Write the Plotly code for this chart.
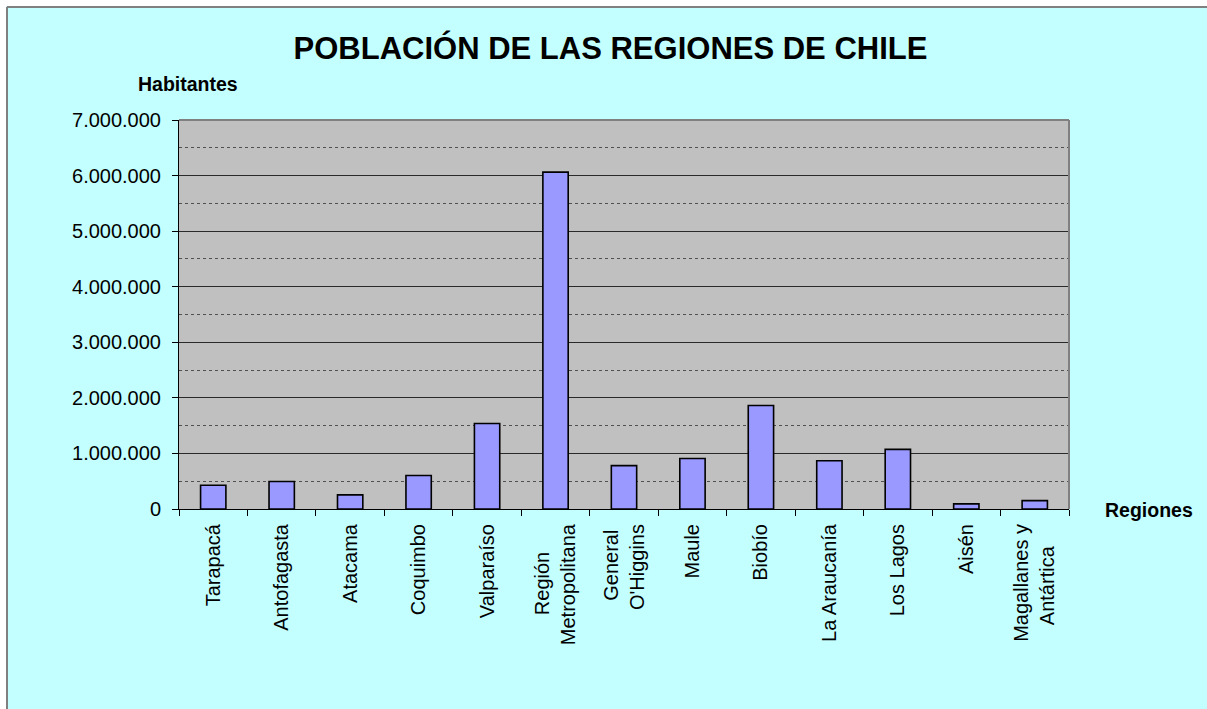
import plotly.graph_objects as go

# Población por región (Censo 2002)
regiones = [
    "Tarapacá",
    "Antofagasta",
    "Atacama",
    "Coquimbo",
    "Valparaíso",
    "Región\u00a0\u00a0\u00a0\u00a0\u00a0<br>Metropolitana",
    "General\u00a0<br>O'Higgins",
    "Maule",
    "Biobío",
    "La Araucanía",
    "Los Lagos",
    "Aisén",
    "Magallanes y<br>Antártica\u00a0\u00a0\u00a0\u00a0",
]
habitantes = [
    428594, 493984, 254336, 603210, 1539852, 6061185, 780627,
    908097, 1861562, 869535, 1073135, 91492, 150826,
]
y_ticks = [0, 1000000, 2000000, 3000000, 4000000, 5000000, 6000000, 7000000]

FONT = "Liberation Sans, Arial, sans-serif"
W, H = 1207, 709
L, R, T, B = 179, 138, 120, 200
PW, PH = W - L - R, H - T - B


def px_x(px):
    return (px - L) / PW


def px_y(py):
    return (H - B - py) / PH


fig = go.Figure(
    go.Bar(
        x=regiones,
        y=habitantes,
        marker=dict(color="#9999FF", line=dict(color="#000000", width=1.6)),
        hovertemplate="%{x}: %{y:,d}<extra></extra>",
    )
)

fig.update_layout(
    width=W,
    height=H,
    margin=dict(l=L, r=R, t=T, b=B, pad=0),
    paper_bgcolor="#C4FFFF",
    plot_bgcolor="#C0C0C0",
    separators=",.",
    bargap=0.63,
    showlegend=False,
    font=dict(family=FONT, size=20, color="#000000"),
    title=dict(
        text="<b>POBLACIÓN DE LAS REGIONES DE CHILE</b>",
        font=dict(family=FONT, size=31, color="#000000"),
        xref="container",
        yref="container",
        x=610.5 / W,
        y=1 - 48 / H,
        xanchor="center",
        yanchor="middle",
    ),
)

fig.update_yaxes(
    range=[0, 7000000],
    tickvals=y_ticks,
    tickformat=",d",
    ticks="outside",
    ticklen=6,
    tickcolor="#000000",
    ticklabelstandoff=7,
    tickfont=dict(family=FONT, size=20, color="#000000"),
    showline=True,
    linecolor="#000000",
    linewidth=1,
    showgrid=True,
    gridcolor="#2a2a2a",
    gridwidth=1,
    zeroline=False,
    minor=dict(dtick=500000, showgrid=True, gridcolor="#505050", griddash="dot", gridwidth=1),
    fixedrange=True,
)

fig.update_xaxes(
    type="category",
    tickangle=-90,
    ticks="outside",
    tickson="boundaries",
    ticklen=6,
    tickcolor="#000000",
    ticklabelstandoff=6,
    tickfont=dict(family=FONT, size=20, color="#000000"),
    showline=True,
    linecolor="#000000",
    linewidth=1,
    showgrid=False,
    fixedrange=True,
)

# Marco gris superior y derecho del área de trazado
fig.add_shape(type="line", xref="paper", yref="paper", x0=0, x1=1, y0=1, y1=1,
              line=dict(color="#808080", width=2), layer="above")
fig.add_shape(type="line", xref="paper", yref="paper", x0=1, x1=1, y0=0, y1=1,
              line=dict(color="#808080", width=2), layer="above")

# Borde blanco exterior y marco gris del gráfico
fig.add_shape(type="rect", xref="paper", yref="paper",
              x0=px_x(-5), x1=px_x(6), y0=px_y(H + 5), y1=px_y(-5),
              fillcolor="#FFFFFF", line=dict(width=0), layer="below")
fig.add_shape(type="rect", xref="paper", yref="paper",
              x0=px_x(-5), x1=px_x(W + 5), y0=px_y(6), y1=px_y(-5),
              fillcolor="#FFFFFF", line=dict(width=0), layer="below")
fig.add_shape(type="line", xref="paper", yref="paper",
              x0=px_x(7), x1=px_x(7), y0=px_y(7), y1=px_y(H + 5),
              line=dict(color="#808080", width=2), layer="below")
fig.add_shape(type="line", xref="paper", yref="paper",
              x0=px_x(7), x1=px_x(W + 5), y0=px_y(7), y1=px_y(7),
              line=dict(color="#808080", width=2), layer="below")

fig.add_annotation(text="<b>Habitantes</b>", xref="paper", yref="paper",
                   x=px_x(188), y=px_y(84), showarrow=False,
                   xanchor="center", yanchor="middle",
                   font=dict(family=FONT, size=19.5, color="#000000"))
fig.add_annotation(text="<b>Regiones</b>", xref="paper", yref="paper",
                   x=px_x(1149), y=px_y(510), showarrow=False,
                   xanchor="center", yanchor="middle",
                   font=dict(family=FONT, size=19.5, color="#000000"))

fig.write_html("out.html", config={"displayModeBar": False})
